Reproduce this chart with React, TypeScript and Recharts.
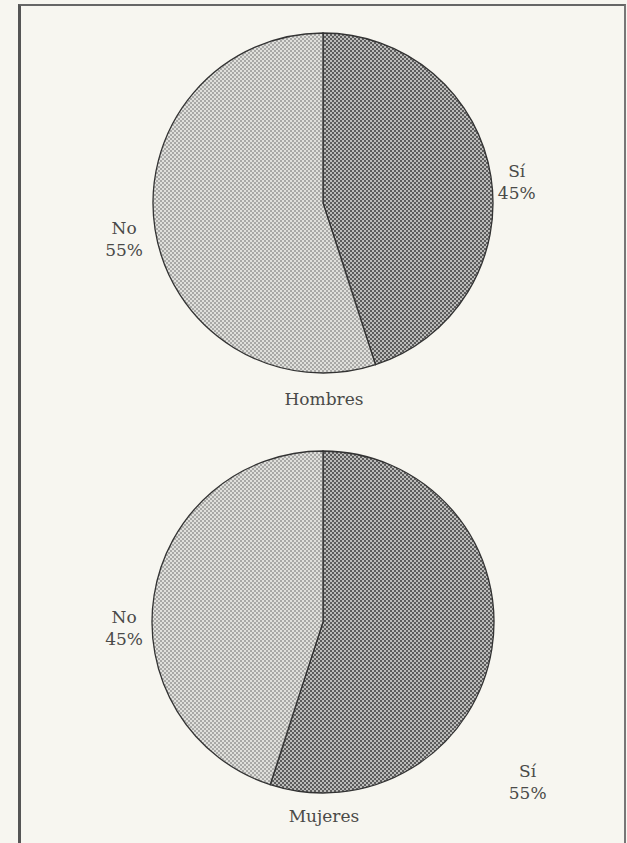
import React from 'react';
import { Cell, Pie, PieChart } from 'recharts';

const categories = ['Sí', 'No'];
const hombresValues = [45, 55];
const mujeresValues = [55, 45];
const chartTitles = ['Hombres', 'Mujeres'];

// where each slice label sits: polar angle (deg, anticlockwise from 3 o'clock) and distance from centre
const hombresLabelSpots = [
  { angle: 6.5, dist: 195 },
  { angle: 190, dist: 202 },
];
const mujeresLabelSpots = [
  { angle: -37.8, dist: 259 },
  { angle: 181.5, dist: 199 },
];

const sliceFills = ['url(#darkDots)', 'url(#lightDots)'];
const FONT = '"DejaVu Serif", serif';
const TEXT = '#4a4a48';

const hombresData = categories.map((name, i) => ({ name, value: hombresValues[i] }));
const mujeresData = categories.map((name, i) => ({ name, value: mujeresValues[i] }));

const makeLabel =
  (data: { name: string; value: number }[], spots: { angle: number; dist: number }[]) =>
  (props: any) => {
    const { cx, cy, index } = props;
    const spot = spots[index];
    const rad = (spot.angle * Math.PI) / 180;
    const x = cx + spot.dist * Math.cos(rad);
    const y = cy - spot.dist * Math.sin(rad);
    return (
      <text x={x} y={y} textAnchor="middle" fill={TEXT} fontFamily={FONT} fontSize={17}>
        <tspan x={x} dy={-4}>{data[index].name}</tspan>
        <tspan x={x} dy={22}>{data[index].value}%</tspan>
      </text>
    );
  };

const titleStyle = (top: number): React.CSSProperties => ({
  position: 'absolute',
  left: 0,
  width: 648,
  top,
  textAlign: 'center',
  fontFamily: FONT,
  fontSize: 17,
  color: TEXT,
  lineHeight: '20px',
});

export default function App() {
  return (
    <div style={{ position: 'absolute', left: 0, top: 0, width: 627, height: 843, background: '#f7f6f0', overflow: 'hidden' }}>
      <div
        style={{
          position: 'absolute',
          left: 18,
          top: 4,
          width: 603,
          height: 860,
          borderLeft: '3px solid #555',
          borderTop: '2px solid #666',
          borderRight: '2px solid #777',
        }}
      />
      <div style={{ position: 'absolute', left: 0, top: 0 }}>
        <PieChart width={627} height={843} margin={{ top: 0, right: 0, bottom: 0, left: 0 }}>
          <defs>
            <pattern id="darkDots" width={4} height={4} patternUnits="userSpaceOnUse">
              <rect width={4} height={4} fill="#bcbcba" />
              <rect width={2} height={2} fill="#5c5c5c" />
              <rect x={2} y={2} width={2} height={2} fill="#5c5c5c" />
            </pattern>
            <pattern id="lightDots" width={4} height={4} patternUnits="userSpaceOnUse">
              <rect width={4} height={4} fill="#e0e0dc" />
              <rect width={2} height={2} fill="#a8a8a6" />
              <rect x={2} y={2} width={2} height={2} fill="#a8a8a6" />
            </pattern>
          </defs>
          <Pie
            data={hombresData}
            dataKey="value"
            nameKey="name"
            cx={323}
            cy={203}
            outerRadius={170}
            startAngle={90}
            endAngle={-270}
            stroke="#333"
            strokeWidth={1.3}
            labelLine={false}
            label={makeLabel(hombresData, hombresLabelSpots)}
            isAnimationActive={false}
          >
            {hombresData.map((d, i) => (
              <Cell key={d.name} fill={sliceFills[i]} />
            ))}
          </Pie>
          <Pie
            data={mujeresData}
            dataKey="value"
            nameKey="name"
            cx={323}
            cy={622}
            outerRadius={171}
            startAngle={90}
            endAngle={-270}
            stroke="#333"
            strokeWidth={1.3}
            labelLine={false}
            label={makeLabel(mujeresData, mujeresLabelSpots)}
            isAnimationActive={false}
          >
            {mujeresData.map((d, i) => (
              <Cell key={d.name} fill={sliceFills[i]} />
            ))}
          </Pie>
        </PieChart>
      </div>
      <div style={titleStyle(389)}>{chartTitles[0]}</div>
      <div style={titleStyle(806)}>{chartTitles[1]}</div>
    </div>
  );
}
